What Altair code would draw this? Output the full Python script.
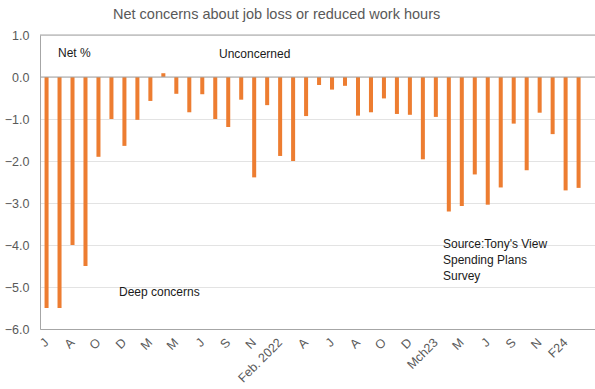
import altair as alt
import pandas as pd

# Net % values, one per survey month (left to right)
values = [-5.5, -5.5, -4.0, -4.5, -1.9, -1.0, -1.64, -1.02, -0.57, 0.09,
          -0.40, -0.84, -0.41, -1.0, -1.19, -0.54, -2.39, -0.67, -1.88, -2.0,
          -0.93, -0.19, -0.30, -0.21, -0.92, -0.84, -0.51, -0.88, -0.90, -1.96,
          -0.95, -3.2, -3.07, -2.32, -3.04, -2.63, -1.11, -2.22, -0.85, -1.36,
          -2.70, -2.64]

# Tick labels shown on every second bar
tick_labels = ["J", "A", "O", "D", "M", "M", "J", "S", "N", "Feb. 2022",
               "A", "J", "A", "O", "D", "Mch23", "M", "J", "S", "N", "F24"]

y_ticks = [1, 0, -1, -2, -3, -4, -5, -6]

idx = list(range(len(values)))
all_labels = []
for i in idx:
    all_labels.append(tick_labels[i // 2] if i % 2 == 0 and i // 2 < len(tick_labels) else "")

label_expr = "[" + ",".join("'" + s.replace("'", "\\'") + "'" for s in all_labels) + "][datum.value]"

df = pd.DataFrame({"i": idx, "v": values})

FONT = "Liberation Sans"
GREY = "#595959"
LINE = "#A6A6A6"

x_scale = alt.Scale(domain=idx, paddingInner=0.69, paddingOuter=0.73, align=0.24)
y_scale = alt.Scale(domain=[-6, 1], nice=False)

bars = alt.Chart(df).mark_bar(color="#ED7D31").encode(
    x=alt.X("i:O", scale=x_scale, title=None,
            axis=alt.Axis(labelExpr=label_expr, labelAngle=-45, labelAlign="right",
                          labelBaseline="middle", labelPadding=11, ticks=False,
                          domainColor=LINE, labelColor=GREY, labelFontSize=12.5,
                          labelFont=FONT, grid=False, labelOverlap=False)),
    y=alt.Y("v:Q", scale=y_scale, title=None,
            axis=alt.Axis(values=y_ticks, format=".1f", ticks=False, domainColor=LINE,
                          labelColor=GREY, labelFontSize=12.5, labelFont=FONT,
                          labelPadding=11, gridColor="#E3E3E3")),
)

rules = alt.Chart(pd.DataFrame({"y": [0, 1]})).mark_rule(color=LINE, strokeWidth=1.2).encode(
    y=alt.Y("y:Q", scale=y_scale)
)

ann_left = ["Net %", "Unconcerned", "Deep concerns"]
ann = pd.DataFrame({"t": ann_left, "px": [18, 179, 79], "py": [18, 19, 257]})
texts = alt.Chart(ann).mark_text(align="left", baseline="middle", fontSize=12,
                                 font=FONT, color="#1a1a1a").encode(
    x=alt.X("px:Q", scale=None), y=alt.Y("py:Q", scale=None), text="t:N"
)

source = alt.Chart(pd.DataFrame({"t": ["Source:Tony's View"]})).mark_text(
    align="left", baseline="middle", fontSize=12, font=FONT, color="#1a1a1a",
    lineHeight=16
).encode(x=alt.value(403), y=alt.value(209),
         text=alt.value(["Source:Tony's View", "Spending Plans", "Survey"]))

chart = alt.layer(bars, rules, texts, source).properties(
    width=555, height=294,
    title=alt.TitleParams("Net concerns about job loss or reduced work hours",
                          anchor="start", frame="group", dx=73, offset=7, fontSize=14.5,
                          fontWeight="normal", color=GREY, font=FONT),
    padding={"left": 40, "top": 35, "right": 0, "bottom": 60},
    autosize=alt.AutoSizeParams(type="none"),
).configure_view(stroke=None).configure(background="white")

chart.save("out.html", embed_options={"renderer": "svg", "actions": False})
